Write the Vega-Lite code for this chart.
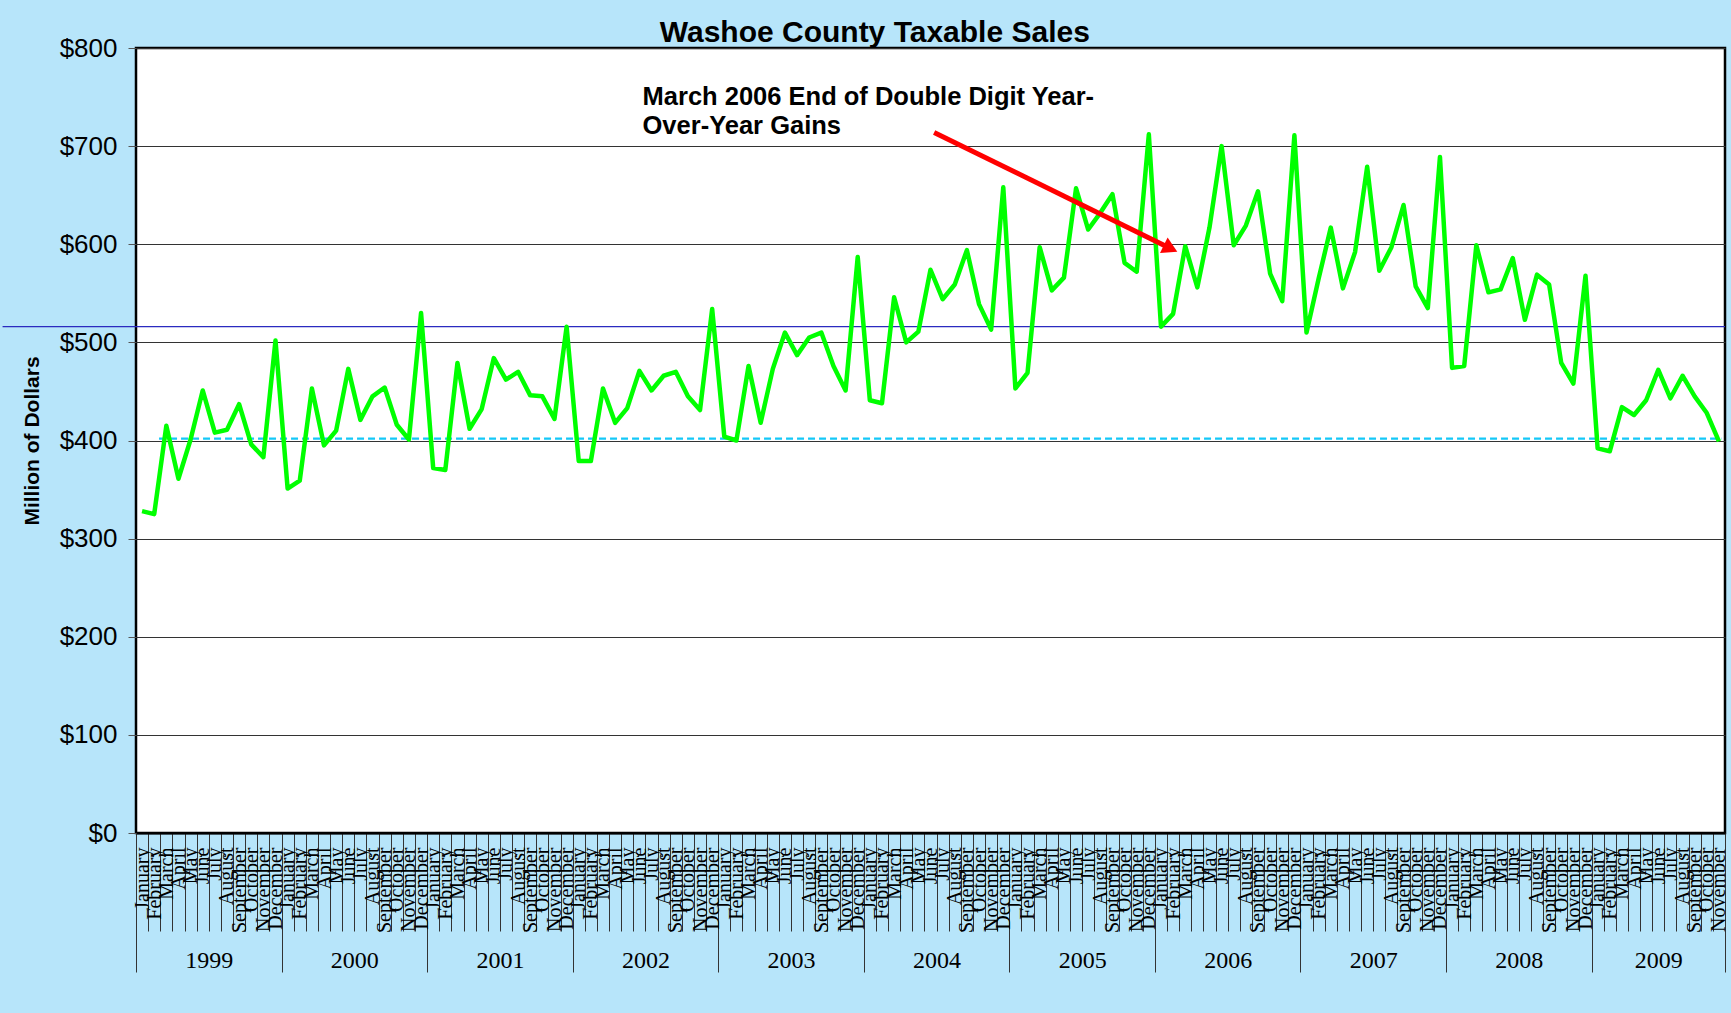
{
  "$schema": "https://vega.github.io/schema/vega-lite/v6.json",
  "width": 1589,
  "height": 785,
  "autosize": {"type": "none"},
  "padding": {"left": 136, "top": 48, "right": 6, "bottom": 180},
  "background": "#b7e5fa",
  "title": {"text": "Washoe County Taxable Sales", "font": "Liberation Sans", "fontSize": 30, "fontWeight": "bold", "color": "black", "anchor": "middle", "frame": "bounds", "offset": -13, "dx": -22},
  "config": {"view": {"fill": "white", "stroke": "black", "strokeWidth": 2.5}},
  "datasets": {
    "sales": [
      {"i":0,"date":"1999-01","sales":328},{"i":1,"date":"1999-02","sales":325},{"i":2,"date":"1999-03","sales":415},{"i":3,"date":"1999-04","sales":361},{"i":4,"date":"1999-05","sales":401},{"i":5,"date":"1999-06","sales":451},{"i":6,"date":"1999-07","sales":408},{"i":7,"date":"1999-08","sales":411},{"i":8,"date":"1999-09","sales":437},{"i":9,"date":"1999-10","sales":396},{"i":10,"date":"1999-11","sales":383},{"i":11,"date":"1999-12","sales":502},
      {"i":12,"date":"2000-01","sales":351},{"i":13,"date":"2000-02","sales":359},{"i":14,"date":"2000-03","sales":453},{"i":15,"date":"2000-04","sales":395},{"i":16,"date":"2000-05","sales":410},{"i":17,"date":"2000-06","sales":473},{"i":18,"date":"2000-07","sales":421},{"i":19,"date":"2000-08","sales":445},{"i":20,"date":"2000-09","sales":454},{"i":21,"date":"2000-10","sales":416},{"i":22,"date":"2000-11","sales":401},{"i":23,"date":"2000-12","sales":530},
      {"i":24,"date":"2001-01","sales":372},{"i":25,"date":"2001-02","sales":370},{"i":26,"date":"2001-03","sales":479},{"i":27,"date":"2001-04","sales":412},{"i":28,"date":"2001-05","sales":432},{"i":29,"date":"2001-06","sales":484},{"i":30,"date":"2001-07","sales":462},{"i":31,"date":"2001-08","sales":470},{"i":32,"date":"2001-09","sales":446},{"i":33,"date":"2001-10","sales":445},{"i":34,"date":"2001-11","sales":422},{"i":35,"date":"2001-12","sales":516},
      {"i":36,"date":"2002-01","sales":379},{"i":37,"date":"2002-02","sales":379},{"i":38,"date":"2002-03","sales":453},{"i":39,"date":"2002-04","sales":418},{"i":40,"date":"2002-05","sales":433},{"i":41,"date":"2002-06","sales":471},{"i":42,"date":"2002-07","sales":451},{"i":43,"date":"2002-08","sales":466},{"i":44,"date":"2002-09","sales":470},{"i":45,"date":"2002-10","sales":445},{"i":46,"date":"2002-11","sales":431},{"i":47,"date":"2002-12","sales":534},
      {"i":48,"date":"2003-01","sales":404},{"i":49,"date":"2003-02","sales":400},{"i":50,"date":"2003-03","sales":476},{"i":51,"date":"2003-04","sales":418},{"i":52,"date":"2003-05","sales":473},{"i":53,"date":"2003-06","sales":510},{"i":54,"date":"2003-07","sales":487},{"i":55,"date":"2003-08","sales":505},{"i":56,"date":"2003-09","sales":510},{"i":57,"date":"2003-10","sales":476},{"i":58,"date":"2003-11","sales":451},{"i":59,"date":"2003-12","sales":587},
      {"i":60,"date":"2004-01","sales":441},{"i":61,"date":"2004-02","sales":438},{"i":62,"date":"2004-03","sales":546},{"i":63,"date":"2004-04","sales":500},{"i":64,"date":"2004-05","sales":511},{"i":65,"date":"2004-06","sales":574},{"i":66,"date":"2004-07","sales":544},{"i":67,"date":"2004-08","sales":559},{"i":68,"date":"2004-09","sales":594},{"i":69,"date":"2004-10","sales":539},{"i":70,"date":"2004-11","sales":513},{"i":71,"date":"2004-12","sales":658},
      {"i":72,"date":"2005-01","sales":453},{"i":73,"date":"2005-02","sales":469},{"i":74,"date":"2005-03","sales":597},{"i":75,"date":"2005-04","sales":553},{"i":76,"date":"2005-05","sales":566},{"i":77,"date":"2005-06","sales":657},{"i":78,"date":"2005-07","sales":615},{"i":79,"date":"2005-08","sales":632},{"i":80,"date":"2005-09","sales":651},{"i":81,"date":"2005-10","sales":581},{"i":82,"date":"2005-11","sales":572},{"i":83,"date":"2005-12","sales":712},
      {"i":84,"date":"2006-01","sales":516},{"i":85,"date":"2006-02","sales":529},{"i":86,"date":"2006-03","sales":598},{"i":87,"date":"2006-04","sales":556},{"i":88,"date":"2006-05","sales":617},{"i":89,"date":"2006-06","sales":700},{"i":90,"date":"2006-07","sales":599},{"i":91,"date":"2006-08","sales":619},{"i":92,"date":"2006-09","sales":654},{"i":93,"date":"2006-10","sales":570},{"i":94,"date":"2006-11","sales":542},{"i":95,"date":"2006-12","sales":711},
      {"i":96,"date":"2007-01","sales":510},{"i":97,"date":"2007-02","sales":565},{"i":98,"date":"2007-03","sales":617},{"i":99,"date":"2007-04","sales":555},{"i":100,"date":"2007-05","sales":592},{"i":101,"date":"2007-06","sales":679},{"i":102,"date":"2007-07","sales":573},{"i":103,"date":"2007-08","sales":597},{"i":104,"date":"2007-09","sales":640},{"i":105,"date":"2007-10","sales":557},{"i":106,"date":"2007-11","sales":535},{"i":107,"date":"2007-12","sales":689},
      {"i":108,"date":"2008-01","sales":474},{"i":109,"date":"2008-02","sales":476},{"i":110,"date":"2008-03","sales":599},{"i":111,"date":"2008-04","sales":551},{"i":112,"date":"2008-05","sales":554},{"i":113,"date":"2008-06","sales":586},{"i":114,"date":"2008-07","sales":523},{"i":115,"date":"2008-08","sales":569},{"i":116,"date":"2008-09","sales":559},{"i":117,"date":"2008-10","sales":479},{"i":118,"date":"2008-11","sales":458},{"i":119,"date":"2008-12","sales":568},
      {"i":120,"date":"2009-01","sales":392},{"i":121,"date":"2009-02","sales":389},{"i":122,"date":"2009-03","sales":434},{"i":123,"date":"2009-04","sales":426},{"i":124,"date":"2009-05","sales":441},{"i":125,"date":"2009-06","sales":472},{"i":126,"date":"2009-07","sales":443},{"i":127,"date":"2009-08","sales":466},{"i":128,"date":"2009-09","sales":445},{"i":129,"date":"2009-10","sales":428},{"i":130,"date":"2009-11","sales":399}
    ],
    "note": [{"x": 41.26, "y": 762, "label": ["March 2006 End of Double Digit Year-", "Over-Year Gains"]}],
    "arrow": [{"x": 65.3, "y": 714, "x2": 84.79, "y2": 595.7}],
    "refs": [{"name": "blue", "x": -11.5, "x2": 130.5, "y": 516}, {"name": "dash", "x": 1.4, "x2": 130.2, "y": 402}]
  },
  "layer": [
    {
      "data": {"name": "sales"},
      "mark": {"type": "point", "opacity": 0},
      "encoding": {
        "x": {"field": "i", "type": "quantitative", "scale": {"domain": [-0.5, 130.5], "nice": false, "zero": false},
          "axis": {"orient": "bottom", "values": [-0.5, 11.5, 23.5, 35.5, 47.5, 59.5, 71.5, 83.5, 95.5, 107.5, 119.5, 130.5], "domain": false, "grid": false, "ticks": true, "tickSize": 139, "tickColor": "#333333", "tickWidth": 1,
            "labelExpr": "datum.value > 130 ? '' : '' + (1999 + floor((datum.value + 0.5) / 12))",
            "labelOffset": {"condition": {"test": "datum.value > 119", "value": 66.7}, "value": 72.8},
            "labelAngle": 0, "labelAlign": "center", "labelBaseline": "middle", "labelPadding": -12, "labelFont": "Liberation Serif", "labelFontSize": 24, "labelColor": "black", "labelOverlap": false, "labelFlush": false, "title": null}},
        "y": {"field": "sales", "type": "quantitative", "scale": {"domain": [0, 800], "nice": false},
          "axis": {"values": [0, 100, 200, 300, 400, 500, 600, 700, 800], "labelExpr": "'$' + datum.value", "labelFont": "Liberation Sans", "labelFontSize": 26, "labelColor": "black", "tickSize": 8, "tickColor": "#555555", "labelPadding": 11, "domain": false, "grid": true, "gridColor": "#333333", "gridWidth": 1,
            "title": "Million of Dollars", "titleFont": "Liberation Sans", "titleFontSize": 21, "titleFontWeight": "bold", "titleColor": "black", "titlePadding": 17}}
      }
    },
    {
      "data": {"name": "refs"},
      "transform": [{"filter": "datum.name == 'blue'"}],
      "mark": {"type": "rule", "color": "#2b2bc0", "strokeWidth": 1.3, "clip": false},
      "encoding": {
        "x": {"field": "x", "type": "quantitative", "axis": null},
        "x2": {"field": "x2"},
        "y": {"field": "y", "type": "quantitative"}
      }
    },
    {
      "data": {"name": "refs"},
      "transform": [{"filter": "datum.name == 'dash'"}],
      "mark": {"type": "rule", "color": "#14c8f8", "strokeWidth": 2.2, "strokeDash": [7, 4]},
      "encoding": {
        "x": {"field": "x", "type": "quantitative", "axis": null},
        "x2": {"field": "x2"},
        "y": {"field": "y", "type": "quantitative"}
      }
    },
    {
      "data": {"name": "sales"},
      "mark": {"type": "line", "color": "#00ff00", "strokeWidth": 4.5, "strokeJoin": "round"},
      "encoding": {
        "x": {"field": "i", "type": "quantitative",
          "axis": {"orient": "bottom", "values": [-0.5,0.5,1.5,2.5,3.5,4.5,5.5,6.5,7.5,8.5,9.5,10.5,11.5,12.5,13.5,14.5,15.5,16.5,17.5,18.5,19.5,20.5,21.5,22.5,23.5,24.5,25.5,26.5,27.5,28.5,29.5,30.5,31.5,32.5,33.5,34.5,35.5,36.5,37.5,38.5,39.5,40.5,41.5,42.5,43.5,44.5,45.5,46.5,47.5,48.5,49.5,50.5,51.5,52.5,53.5,54.5,55.5,56.5,57.5,58.5,59.5,60.5,61.5,62.5,63.5,64.5,65.5,66.5,67.5,68.5,69.5,70.5,71.5,72.5,73.5,74.5,75.5,76.5,77.5,78.5,79.5,80.5,81.5,82.5,83.5,84.5,85.5,86.5,87.5,88.5,89.5,90.5,91.5,92.5,93.5,94.5,95.5,96.5,97.5,98.5,99.5,100.5,101.5,102.5,103.5,104.5,105.5,106.5,107.5,108.5,109.5,110.5,111.5,112.5,113.5,114.5,115.5,116.5,117.5,118.5,119.5,120.5,121.5,122.5,123.5,124.5,125.5,126.5,127.5,128.5,129.5,130.5],
            "domain": true, "domainColor": "black", "domainWidth": 2, "grid": false, "ticks": true, "tickSize": 98, "tickColor": "#333333", "tickWidth": 1,
            "labelExpr": "datum.value > 130 ? '' : ['January','February','March','April','May','June','July','August','September','October','November','December'][(datum.value + 0.5) % 12]",
            "labelAngle": 270, "labelAlign": "right", "labelBaseline": "middle", "labelOffset": 6.06, "labelPadding": -84, "labelFont": "Liberation Serif", "labelFontSize": 20, "labelColor": "black", "labelOverlap": false, "labelFlush": false, "labelBound": false, "title": null}},
        "y": {"field": "sales", "type": "quantitative"}
      }
    },
    {
      "data": {"name": "arrow"},
      "mark": {"type": "rule", "color": "#ff0000", "strokeWidth": 5},
      "encoding": {
        "x": {"field": "x", "type": "quantitative", "axis": null},
        "x2": {"field": "x2"},
        "y": {"field": "y", "type": "quantitative"},
        "y2": {"field": "y2"}
      }
    },
    {
      "data": {"name": "arrow"},
      "mark": {"type": "point", "shape": "triangle-right", "angle": 26, "size": 300, "filled": true, "color": "#ff0000", "opacity": 1},
      "encoding": {
        "x": {"field": "x2", "type": "quantitative", "axis": null},
        "y": {"field": "y2", "type": "quantitative"}
      }
    },
    {
      "data": {"name": "note"},
      "mark": {"type": "text", "align": "left", "baseline": "top", "font": "Liberation Sans", "fontSize": 25.5, "fontWeight": "bold", "color": "black", "lineHeight": 29},
      "encoding": {
        "x": {"field": "x", "type": "quantitative", "axis": null},
        "y": {"field": "y", "type": "quantitative"},
        "text": {"field": "label"}
      }
    }
  ],
  "resolve": {"axis": {"x": "independent"}}
}
